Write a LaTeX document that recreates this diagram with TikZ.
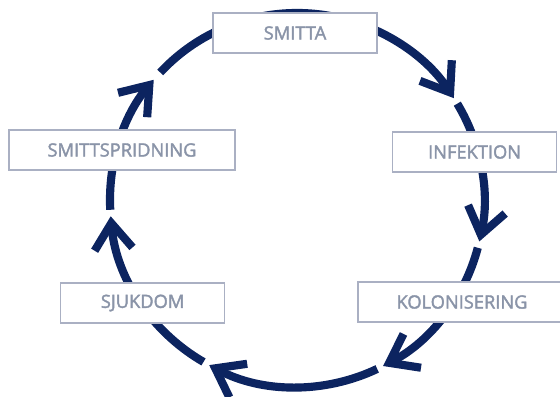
\documentclass[tikz,border=0pt]{standalone}
\usepackage{fontspec}
\setmainfont{Open Sans}
\newfontfamily\stagefont{Open Sans}[FakeBold=2]
\usetikzlibrary{arrows.meta}
\definecolor{CycleNavy}{RGB}{12,36,96}
\definecolor{BoxGrey}{RGB}{170,176,195}
\definecolor{LabelGrey}{RGB}{138,148,168}

\tikzset{stagebox/.style={draw=BoxGrey,line width=0.8pt,fill=white,minimum height=1cm,
    text=LabelGrey,font=\stagefont\fontsize{13}{15}\selectfont,inner sep=0pt}}

\begin{document}
\begin{tikzpicture}
				\useasboundingbox (-7.425,-4.9) rectangle (6.575,5.0);
				
				% circle segments, each ending in an open arrow
				\foreach \i/\s/\e in {1/137/33,2/31/-12.8,3/-14.8/-62.6,
					4/-64.6/-118,5/-120/-175,6/-177/-220}
				{
				\coordinate (arc\i) at (\s:4.675);
				\draw[CycleNavy,line width=5.8pt,-{Straight Barb[length=6.5mm,width=9.5mm]}]
				(arc\i) arc[start angle=\s,end angle=\e,radius=4.675];
				}
				
				\node[stagebox,minimum width=4.1cm] (smitta) at (-0.05,4.175) {SMITTA};
				\node[stagebox,minimum width=4.1cm] (infektion) at (4.44,1.2) {INFEKTION};
				\node[stagebox,minimum width=5.2cm] (kolonisering) at (4.125,-2.55) {KOLONISERING};
				\node[stagebox,minimum width=4.1cm] (sjukdom) at (-3.86,-2.575) {SJUKDOM};
				\node[stagebox,minimum width=5.65cm] (smittspridning) at (-4.375,1.25) {SMITTSPRIDNING};
			\end{tikzpicture}
\end{document}
